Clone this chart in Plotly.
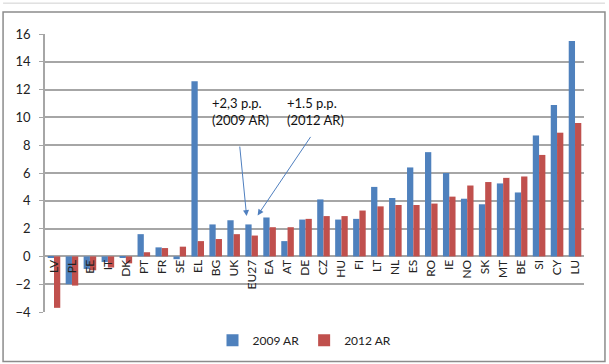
import plotly.graph_objects as go

categories = ["LV", "PL", "EE", "IT", "DK", "PT", "FR", "SE", "EL", "BG", "UK", "EU27", "EA", "AT",
              "DE", "CZ", "HU", "FI", "LT", "NL", "ES", "RO", "IE", "NO", "SK", "MT", "BE", "SI", "CY", "LU"]
ar2009 = [-0.1, -2.0, -0.9, -0.4, -0.1, 1.6, 0.65, -0.2, 12.6, 2.3, 2.6, 2.3, 2.8, 1.1,
          2.65, 4.1, 2.65, 2.7, 5.0, 4.2, 6.4, 7.5, 6.0, 4.15, 3.75, 5.25, 4.6, 8.7, 10.9, 15.5]
ar2012 = [-3.7, -2.1, -1.0, -0.8, -0.5, 0.3, 0.6, 0.7, 1.1, 1.25, 1.6, 1.5, 2.1, 2.1,
          2.7, 2.9, 2.9, 3.3, 3.6, 3.7, 3.7, 3.8, 4.3, 5.1, 5.35, 5.65, 5.75, 7.3, 8.9, 9.6]
yticks = [-4, -2, 0, 2, 4, 6, 8, 10, 12, 14, 16]

BLUE = "#4F81BD"
RED = "#C0504D"
FONT = "Lato, 'Noto Sans', sans-serif"

fig = go.Figure()
fig.add_bar(x=categories, y=ar2009, name="2009 AR", marker=dict(color=BLUE, line=dict(width=0)))
fig.add_bar(x=categories, y=ar2012, name="2012 AR", marker=dict(color=RED, line=dict(width=0)))

# annotation texts
fig.add_annotation(x=11, y=10.4, xref="x", yref="y", text="+2,3 p.p.<br>(2009 AR)",
                   showarrow=False, xshift=-11, font=dict(family=FONT, size=13, color="#111"),
                   align="left")
fig.add_annotation(x=11, y=10.4, xref="x", yref="y", text="+1.5 p.p.<br>(2012 AR)",
                   showarrow=False, xshift=64, font=dict(family=FONT, size=13, color="#111"),
                   align="left")
# arrows
fig.add_annotation(x=11, y=2.9, xref="x", yref="y", text="", showarrow=True, xshift=-5,
                   ax=-7, ay=-71, arrowhead=2, arrowsize=1.2, arrowwidth=1, arrowcolor="#4F7FBF")
fig.add_annotation(x=11, y=2.95, xref="x", yref="y", text="", showarrow=True, xshift=6,
                   ax=54, ay=-80, arrowhead=2, arrowsize=1.2, arrowwidth=1, arrowcolor="#4F7FBF")

# outer chart frame
fig.add_shape(type="rect", xref="paper", yref="paper", x0=-0.0778, x1=1.0389, y0=-0.178, y1=1.079,
              line=dict(color="#8c8c8c", width=1.5), fillcolor="rgba(0,0,0,0)", layer="below")
fig.add_shape(type="line", xref="paper", yref="paper", x0=-0.0778, x1=1.0389, y0=1.111, y1=1.111,
              line=dict(color="#d0d0d0", width=1), layer="below")

fig.update_layout(
    width=609, height=364,
    margin=dict(l=45, r=25, t=34, b=52),
    paper_bgcolor="white", plot_bgcolor="white",
    barmode="group", bargap=0.3, bargroupgap=0.0,
    font=dict(family=FONT, size=12, color="#222"),
    showlegend=True,
    legend=dict(orientation="h", xref="container", yref="container",
                x=0.5, xanchor="center", y=0.105, yanchor="top",
                font=dict(family=FONT, size=12, color="#222"), itemwidth=30,
                traceorder="normal"),
    xaxis=dict(anchor="free", position=0.2, tickangle=-90, showgrid=False, showline=False,
               ticks="", tickfont=dict(family=FONT, size=12, color="#222"), automargin=False),
    yaxis=dict(range=[-4, 16], tickvals=yticks, showgrid=True, gridcolor="#A6A6A6", gridwidth=1.5,
               zeroline=True, zerolinecolor="#A6A6A6", zerolinewidth=1.5,
               showline=True, linecolor="#A6A6A6", linewidth=1.5, ticks="outside", ticklen=4,
               tickcolor="#A6A6A6", tickfont=dict(family=FONT, size=13, color="#222"),
               ticklabelstandoff=6, automargin=False),
)

fig.write_html("out.html", config={"displayModeBar": False},
               post_script="document.body.style.margin='0';document.body.style.overflow='hidden';")
